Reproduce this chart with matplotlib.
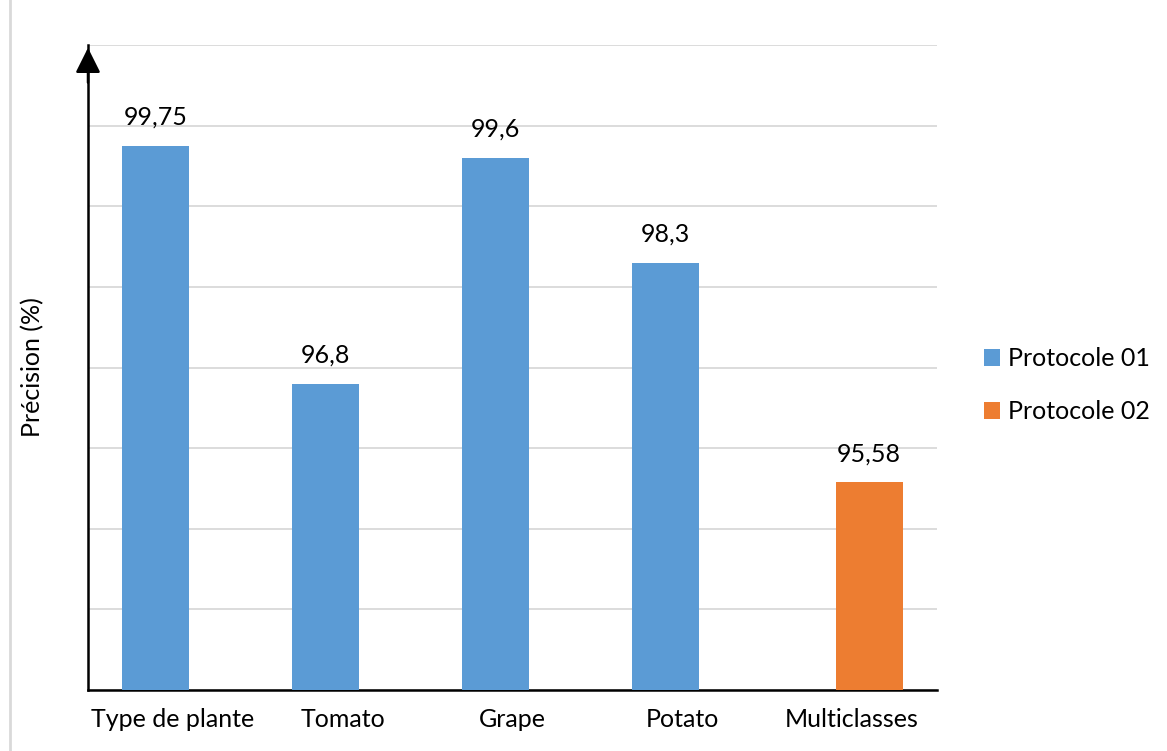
import matplotlib.pyplot as plt
import numpy as np

plt.rcParams['font.family'] = ['Lato', 'DejaVu Sans']

# Precision values per category; None where a protocol has no bar
categories = ["Type de plante", "Tomato", "Grape", "Potato", "Multiclasses"]
protocole_01 = [99.75, 96.8, 99.6, 98.3, None]
protocole_02 = [None, None, None, None, 95.58]
series_names = ["Protocole 01", "Protocole 02"]
colors = ["#5B9BD5", "#ED7D31"]

ymin, ymax = 93, 101


def fmt(v):
    return ("%g" % v).replace(".", ",")


fig = plt.figure(figsize=(11.67, 7.51), dpi=100)
ax = fig.add_axes([0.0754, 0.0812, 0.7275, 0.8588])

x = np.arange(len(categories))
width = 0.394
offsets = [-0.1, 0.1]

for vals, off, c, name in zip([protocole_01, protocole_02], offsets, colors, series_names):
    xs = [xi + off for xi, v in zip(x, vals) if v is not None]
    hs = [v - ymin for v in vals if v is not None]
    bars = ax.bar(xs, hs, width=width, bottom=ymin, color=c, label=name, zorder=3)
    for b, h in zip(bars, hs):
        ax.text(b.get_x() + b.get_width() / 2, ymin + h + 0.21, fmt(ymin + h),
                ha="center", va="bottom", fontsize=18, zorder=4)

ax.set_xlim(-0.5, len(categories) - 0.5)
ax.set_ylim(ymin, ymax)
ax.set_yticks(np.arange(ymin, ymax + 1, 1))
ax.set_yticklabels([])
ax.tick_params(axis="y", length=0)
ax.tick_params(axis="x", length=0, pad=13, labelsize=18)
ax.set_xticks(x)
ax.set_xticklabels(categories)
ax.grid(axis="y", color="#D9D9D9", linewidth=1.3, zorder=0)

for s in ["top", "right"]:
    ax.spines[s].set_visible(False)
ax.spines["left"].set_linewidth(1.8)
ax.spines["bottom"].set_linewidth(1.8)
ax.spines["left"].set_zorder(5)

# arrow head on the y axis
ax.annotate("", xy=(-0.5, ymax), xytext=(-0.5, ymax - 0.5),
            arrowprops=dict(arrowstyle="-|>", color="black", lw=1.8,
                            mutation_scale=38), annotation_clip=False)

ax.set_ylabel("Précision (%)", fontsize=18, labelpad=28)

ax.legend(loc="center left", bbox_to_anchor=(0.824, 0.487),
          bbox_transform=fig.transFigure, frameon=False, fontsize=18,
          handlelength=0.65, handleheight=0.65, handletextpad=0.3,
          labelspacing=1.2)

# thin frame line at the left edge
fig.add_artist(plt.Line2D([0.0085, 0.0085], [0.0, 1.0], color="#D9D9D9", lw=2,
                          transform=fig.transFigure))

fig.savefig("out.png", dpi=100)
